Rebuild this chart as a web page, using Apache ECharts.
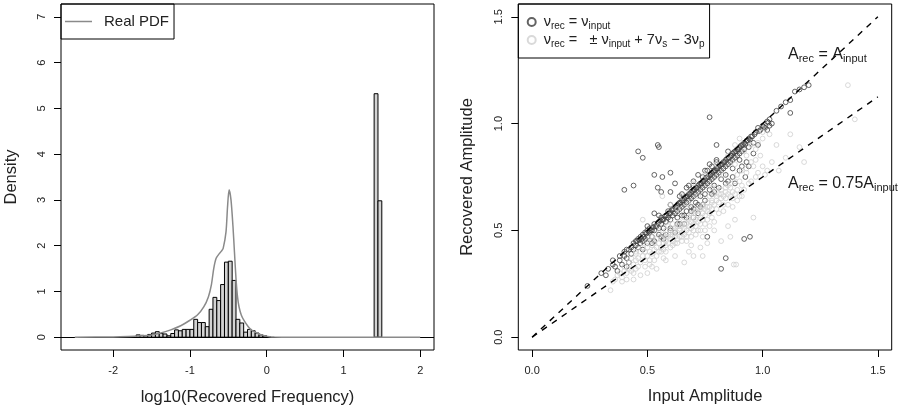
<!DOCTYPE html>
<html><head><meta charset="utf-8">
<script src="https://cdn.jsdelivr.net/npm/echarts@6/dist/echarts.min.js"></script>
<style>html,body{margin:0;padding:0;background:#fff}#c{width:900px;height:408px}</style>
</head><body><div id="c"></div>
<script>
const FONT = '"Liberation Sans", Arial, Helvetica, sans-serif';

// ---- left panel: histogram of log10(recovered frequency) ----
const binWidth = 0.05;
const binStarts = [-1.70,-1.65,-1.60,-1.55,-1.50,-1.45,-1.40,-1.35,-1.30,-1.25,-1.20,-1.15,-1.10,-1.05,-1.00,
  -0.95,-0.90,-0.85,-0.80,-0.75,-0.70,-0.65,-0.60,-0.55,-0.50,-0.45,-0.40,-0.35,-0.30,-0.25,-0.20,-0.15,-0.10,-0.05,0.00,
  1.40,1.45];
const densities = [0.05,0.04,0.03,0.06,0.09,0.12,0.08,0.07,0.03,0.08,0.16,0.14,0.17,0.17,0.17,
  0.39,0.32,0.32,0.23,0.61,0.87,0.80,1.15,1.64,1.66,1.24,0.39,0.31,0.11,0.17,0.14,0.09,0.05,0.03,0.01,
  5.32,2.98];
const pdfX = [-2.5,-2.0,-1.8,-1.64,-1.5,-1.38,-1.25,-1.12,-1.0,-0.9,-0.82,-0.76,-0.72,-0.69,-0.66,-0.62,-0.59,-0.567,-0.53,-0.51,-0.49,-0.465,-0.44,-0.42,-0.40,-0.38,-0.36,-0.33,-0.29,-0.24,-0.2,-0.15,-0.1,-0.04,0.04,0.1,0.3,1.0,2.0];
const pdfY = [0,0.005,0.015,0.03,0.05,0.09,0.16,0.25,0.37,0.49,0.66,0.88,1.15,1.5,1.72,1.82,1.88,1.94,2.3,2.85,3.22,3.0,2.44,1.86,1.28,0.88,0.66,0.48,0.35,0.23,0.16,0.11,0.07,0.04,0.01,0.004,0,0,0];
const histXTicks = [-2,-1,0,1,2];
const histYTicks = [0,1,2,3,4,5,6,7];

// ---- right panel: recovered vs input amplitude ----
const ampTicks = [0.0,0.5,1.0,1.5];
const samePts = [
[0.24,0.24],[0.30,0.30],[0.32,0.29],[0.33,0.32],[0.35,0.34],[0.35,0.36],[0.36,0.33],[0.37,0.31],[0.38,0.36],[0.38,0.38],
[0.39,0.34],[0.40,0.40],[0.40,0.38],[0.41,0.41],[0.41,0.37],[0.41,0.33],[0.42,0.41],[0.42,0.35],[0.43,0.42],[0.43,0.39],
[0.44,0.44],[0.44,0.41],[0.45,0.43],[0.45,0.45],[0.46,0.46],[0.46,0.42],[0.47,0.44],[0.47,0.47],[0.48,0.48],[0.48,0.45],
[0.48,0.41],[0.49,0.49],[0.49,0.46],[0.50,0.50],[0.50,0.47],[0.50,0.44],[0.51,0.49],[0.51,0.51],[0.52,0.50],[0.52,0.47],
[0.53,0.53],[0.53,0.50],[0.53,0.45],[0.54,0.52],[0.53,0.58],[0.55,0.54],[0.55,0.51],[0.55,0.48],[0.56,0.56],[0.56,0.53],
[0.57,0.55],[0.57,0.51],[0.58,0.57],[0.58,0.54],[0.58,0.48],[0.59,0.59],[0.59,0.56],[0.60,0.58],[0.60,0.55],[0.60,0.50],
[0.61,0.60],[0.61,0.57],[0.62,0.61],[0.62,0.58],[0.62,0.49],[0.63,0.62],[0.63,0.59],[0.63,0.56],[0.64,0.63],[0.64,0.60],
[0.64,0.66],[0.65,0.64],[0.65,0.61],[0.65,0.57],[0.66,0.65],[0.66,0.62],[0.66,0.53],[0.67,0.70],[0.67,0.66],[0.67,0.63],
[0.67,0.59],[0.68,0.67],[0.68,0.64],[0.68,0.71],[0.69,0.68],[0.69,0.65],[0.69,0.61],[0.70,0.69],[0.70,0.66],[0.70,0.71],
[0.70,0.56],[0.71,0.70],[0.71,0.67],[0.71,0.63],[0.72,0.71],[0.72,0.68],[0.72,0.58],[0.73,0.72],[0.73,0.69],[0.73,0.66],
[0.74,0.73],[0.74,0.70],[0.74,0.75],[0.75,0.74],[0.75,0.71],[0.75,0.67],[0.76,0.75],[0.76,0.72],[0.76,0.78],[0.77,0.76],
[0.77,0.73],[0.77,0.69],[0.78,0.77],[0.78,0.74],[0.78,0.80],[0.79,0.78],[0.79,0.75],[0.79,0.71],[0.80,0.79],[0.80,0.76],
[0.80,0.82],[0.81,0.80],[0.81,0.77],[0.82,0.81],[0.82,0.78],[0.82,0.74],[0.83,0.82],[0.83,0.79],[0.84,0.83],[0.84,0.80],
[0.84,0.76],[0.85,0.84],[0.85,0.81],[0.86,0.85],[0.86,0.82],[0.87,0.86],[0.87,0.83],[0.87,0.79],[0.88,0.87],[0.88,0.84],
[0.89,0.88],[0.89,0.85],[0.90,0.89],[0.90,0.86],[0.90,0.83],[0.91,0.90],[0.91,0.87],[0.92,0.91],[0.92,0.88],[0.93,0.92],
[0.94,0.93],[0.94,0.89],[0.95,0.94],[0.96,0.91],[0.97,0.96],[0.98,0.98],[0.99,0.97],[1.00,0.99],[1.01,0.98],[1.02,1.01],
[1.03,1.02],[1.03,0.99],[1.04,1.00],[1.06,1.06],[1.08,1.08],[1.10,1.10],[1.12,1.11],[1.14,1.15],[1.16,1.16],[1.18,1.17],
[1.20,1.18],[1.12,1.05],
[0.77,1.03],[0.80,0.90],[0.545,0.90],[0.55,0.89],[0.46,0.87],[0.48,0.84],[0.40,0.69],[0.44,0.71],[0.53,0.76],[0.565,0.75],
[0.60,0.77],[0.545,0.70],[0.56,0.68],[0.60,0.68],[0.62,0.72],[0.92,0.46],[0.945,0.47],[0.84,0.37],[0.82,0.32],[0.76,0.47],
[0.91,0.80],[0.94,0.80],[0.925,0.75],[0.88,0.72],[0.70,0.60],[0.74,0.62],[0.64,0.53],[0.57,0.46],
[0.455,0.45],[0.465,0.455],[0.475,0.46],[0.485,0.47],[0.495,0.485],[0.505,0.495],[0.515,0.50],[0.525,0.515],[0.535,0.52],[0.545,0.535],
[0.555,0.545],[0.565,0.55],[0.575,0.565],[0.585,0.57],[0.595,0.58],[0.605,0.595],[0.615,0.60],[0.625,0.61],[0.635,0.625],[0.645,0.63],
[0.655,0.64],[0.665,0.655],[0.675,0.66],[0.685,0.67],[0.695,0.685],[0.705,0.69],[0.715,0.70],[0.725,0.715],[0.735,0.72],[0.745,0.73],
[0.755,0.745],[0.765,0.75],[0.775,0.76],[0.785,0.775],[0.795,0.78],[0.805,0.79],[0.815,0.805],[0.825,0.81],[0.835,0.82],[0.845,0.835],
[0.855,0.84],[0.865,0.85],[0.875,0.865],[0.885,0.87],[0.895,0.88],[0.905,0.895],[0.915,0.90],[0.925,0.905],[0.935,0.92],[0.945,0.925],
[0.955,0.94],[0.965,0.95],[0.985,0.965],[1.005,0.985],[1.025,1.005],
[0.52,0.44],[0.56,0.47],[0.60,0.51],[0.63,0.53],[0.66,0.57],[0.69,0.59],[0.72,0.62],[0.75,0.64],[0.78,0.67],[0.81,0.70],
[0.84,0.72],[0.87,0.75],[0.90,0.78],[0.93,0.82],[0.96,0.86],[0.98,0.90],[1.02,0.97],[0.67,0.56],[0.73,0.61],[0.79,0.68],[0.85,0.73],
[0.50,0.52],[0.55,0.57],[0.60,0.62],[0.65,0.67],[0.70,0.73],[0.75,0.78],[0.80,0.83],[0.85,0.87],[0.72,0.76],[0.77,0.81]
];
const aliasPts = [
[0.34,0.22],[0.35,0.26],[0.36,0.27],[0.37,0.29],[0.38,0.30],[0.39,0.28],[0.40,0.31],[0.40,0.33],[0.41,0.30],[0.42,0.32],
[0.42,0.35],[0.43,0.31],[0.43,0.37],[0.44,0.34],[0.44,0.30],[0.45,0.36],[0.45,0.39],[0.46,0.33],[0.46,0.37],[0.47,0.40],
[0.47,0.35],[0.48,0.38],[0.48,0.42],[0.48,0.55],[0.49,0.36],[0.49,0.40],[0.50,0.38],[0.50,0.42],[0.50,0.45],[0.51,0.40],
[0.51,0.36],[0.52,0.43],[0.52,0.39],[0.52,0.47],[0.53,0.41],[0.53,0.44],[0.54,0.38],[0.54,0.46],[0.54,0.42],[0.55,0.44],
[0.55,0.40],[0.55,0.49],[0.56,0.42],[0.56,0.46],[0.565,0.66],[0.57,0.44],[0.57,0.48],[0.57,0.41],[0.58,0.45],[0.58,0.50],
[0.58,0.43],[0.59,0.47],[0.59,0.44],[0.59,0.52],[0.60,0.46],[0.60,0.49],[0.60,0.42],[0.61,0.48],[0.61,0.45],[0.61,0.53],
[0.62,0.47],[0.62,0.50],[0.62,0.44],[0.63,0.49],[0.63,0.52],[0.63,0.46],[0.64,0.50],[0.64,0.47],[0.64,0.54],[0.65,0.49],
[0.65,0.52],[0.65,0.45],[0.66,0.51],[0.66,0.48],[0.66,0.56],[0.67,0.50],[0.67,0.53],[0.67,0.47],[0.68,0.52],[0.68,0.55],
[0.68,0.49],[0.69,0.51],[0.69,0.54],[0.69,0.58],[0.70,0.53],[0.70,0.50],[0.70,0.56],[0.71,0.55],[0.71,0.52],[0.71,0.59],
[0.72,0.54],[0.72,0.57],[0.72,0.50],[0.73,0.56],[0.73,0.60],[0.73,0.53],[0.74,0.58],[0.74,0.55],[0.74,0.62],[0.75,0.57],
[0.75,0.60],[0.75,0.53],[0.76,0.59],[0.76,0.63],[0.76,0.55],[0.77,0.61],[0.77,0.58],[0.77,0.66],[0.78,0.60],[0.78,0.64],
[0.78,0.56],[0.79,0.62],[0.79,0.67],[0.80,0.64],[0.80,0.60],[0.80,0.70],[0.81,0.63],[0.81,0.67],[0.82,0.65],[0.82,0.69],
[0.83,0.66],[0.83,0.62],[0.84,0.68],[0.84,0.65],[0.85,0.67],[0.85,0.71],[0.86,0.66],[0.86,0.70],[0.87,0.68],[0.87,0.65],
[0.88,0.67],[0.89,0.69],[0.90,0.66],[0.90,0.73],[0.91,0.71],[0.92,0.69],[0.93,0.77],[0.94,0.72],[0.95,0.73],[0.96,0.56],
[0.97,0.75],[0.98,0.77],[1.00,0.80],[1.01,0.76],[1.02,0.78],[1.04,0.82],[1.07,0.78],[1.10,0.84],[1.12,0.95],[1.16,0.89],
[1.18,0.82],[1.37,1.18],[1.40,1.02],
[0.60,0.62],[0.65,0.66],[0.70,0.72],[0.75,0.76],[0.80,0.81],[0.85,0.85],[0.88,0.90],[0.90,0.93],[0.92,0.87],[0.95,0.90],
[0.97,0.88],[1.00,0.93],[1.00,0.96],[0.55,0.52],[0.45,0.40],[0.70,0.38],[0.73,0.42],[0.62,0.38],[0.82,0.45],[0.85,0.52],
[0.88,0.55],[0.875,0.34],[0.885,0.34],[0.76,0.44],[0.68,0.40],[0.54,0.32],[0.50,0.30],[0.47,0.29],[0.86,0.47],[0.66,0.35],
[0.74,0.38],[0.58,0.36],[0.52,0.33],
[0.58,0.47],[0.60,0.48],[0.62,0.51],[0.64,0.52],[0.66,0.53],[0.68,0.56],[0.70,0.58],[0.72,0.60],[0.74,0.61],[0.76,0.61],
[0.78,0.63],[0.80,0.66],[0.82,0.67],[0.84,0.70],[0.86,0.72],[0.88,0.73],[0.89,0.76],[0.91,0.78],[0.93,0.79],[0.95,0.82],
[0.97,0.83],[0.99,0.85],[0.61,0.43],[0.63,0.44],[0.65,0.47],[0.67,0.45],[0.69,0.47],[0.71,0.48],[0.73,0.50],[0.75,0.50],
[0.77,0.52],[0.79,0.54],[0.81,0.58],[0.83,0.59],[0.85,0.62],[0.87,0.61],[0.89,0.64],[0.91,0.66],[0.56,0.40],[0.58,0.40],
[0.53,0.36],[0.49,0.33],[0.45,0.32],[0.41,0.27],[0.39,0.26],[0.44,0.27],[0.63,0.60],[0.68,0.62],[0.72,0.66],[0.78,0.70],
[0.83,0.76],[0.88,0.81],[0.93,0.85],[0.98,0.91],[1.03,0.95],[1.06,0.90],[0.96,0.80],[0.69,0.43],[0.74,0.47],[0.79,0.50],
[0.57,0.37],[0.51,0.34]
];
const refLineX = [0, 1.5];
const refSlopes = [1, 0.75];
const annoPos = [[1.11, 1.325], [1.11, 0.72]];

const chart = echarts.init(document.getElementById('c'), null, {renderer: 'canvas'});

const tickLabelStyle = {fontSize: 11, color: '#222', fontFamily: FONT};
const titleStyle = {fontSize: 16.5, color: '#222', fontFamily: FONT};

function axisCfg(gridIndex, min, max, ticks, fmt, name, gap, isY) {
  return {
    type: 'value', gridIndex, min, max, name,
    nameLocation: 'middle', nameGap: gap, nameTextStyle: titleStyle,
    axisLine: {show: false, onZero: false},
    splitLine: {show: false},
    axisTick: {show: true, inside: false, length: 7, lineStyle: {color: '#000', width: 1}, customValues: ticks},
    axisLabel: Object.assign({customValues: ticks, margin: isY ? 14 : 15, rotate: isY ? 90 : 0, formatter: fmt}, tickLabelStyle)
  };
}

const subRich = {
  m: {fontSize: 14.5, lineHeight: 18, verticalAlign: 'middle', fontFamily: FONT, color: '#222'},
  s: {fontSize: 10, lineHeight: 8, verticalAlign: 'bottom', fontFamily: FONT, color: '#222'}
};
const annoRich = {
  m: {fontSize: 16, lineHeight: 20, verticalAlign: 'middle', fontFamily: FONT, color: '#1a1a1a'},
  s: {fontSize: 11, lineHeight: 10, verticalAlign: 'bottom', fontFamily: FONT, color: '#1a1a1a'}
};
const legendLabels = {
  same: '{m|ν}{s|rec}{m| = ν}{s|input}',
  alias: '{m|ν}{s|rec}{m| =   ± ν}{s|input}{m| + 7ν}{s|s}{m| − 3ν}{s|p}'
};
const annoLabels = ['{m|A}{s|rec}{m| = A}{s|input}', '{m|A}{s|rec}{m| = 0.75A}{s|input}'];

const option = {
  animation: false,
  backgroundColor: '#fff',
  grid: [
    {left: 61, top: 4, width: 373, height: 346, show: true, borderColor: '#000', borderWidth: 1,
      backgroundColor: 'transparent', containLabel: false, outerBoundsMode: 'none'},
    {left: 518.3, top: 4, width: 373.4, height: 346, show: true, borderColor: '#000', borderWidth: 1,
      backgroundColor: 'transparent', containLabel: false, outerBoundsMode: 'none'}
  ],
  xAxis: [
    axisCfg(0, -2.68, 2.18, histXTicks, v => String(v), 'log10(Recovered Frequency)', 39, false),
    axisCfg(1, -0.06, 1.56, ampTicks, v => v.toFixed(1), 'Input Amplitude', 38, false)
  ],
  yAxis: [
    axisCfg(0, -0.28, 7.28, histYTicks, v => String(v), 'Density', 41, true),
    axisCfg(1, -0.06, 1.56, ampTicks, v => v.toFixed(1), 'Recovered Amplitude', 42, true)
  ],
  legend: [
    {
      left: 61, top: 4, orient: 'horizontal',
      data: [{name: 'Real PDF', icon: 'rect', itemStyle: {color: '#8a8a8a'}}],
      itemWidth: 27, itemHeight: 1.5, borderColor: '#000', borderWidth: 1, borderRadius: 0,
      padding: [8, 5, 8, 4],
      textStyle: {fontSize: 15, fontFamily: FONT, color: '#222', padding: [0, 0, 0, 7], lineHeight: 19},
      selectedMode: false
    },
    {
      left: 518.3, top: 4, orient: 'vertical', itemGap: 0, itemWidth: 8, itemHeight: 8,
      data: [
        {name: 'same', icon: 'emptyCircle', itemStyle: {color: '#3c3c3c', borderColor: '#3c3c3c', borderWidth: 1}},
        {name: 'alias', icon: 'emptyCircle', itemStyle: {color: '#cfcfcf', borderColor: '#cfcfcf', borderWidth: 1}}
      ],
      formatter: n => legendLabels[n],
      textStyle: {rich: subRich, padding: [0, 0, 0, 3], lineHeight: 18},
      borderColor: '#000', borderWidth: 1, borderRadius: 0,
      padding: [9, 5, 9, 8.4],
      selectedMode: false
    }
  ],
  series: [
    {
      type: 'custom', name: 'hist', xAxisIndex: 0, yAxisIndex: 0, z: 2,
      data: binStarts.map((s, i) => [s, s + binWidth, densities[i]]),
      encode: {x: [0, 1], y: 2},
      renderItem: (params, api) => {
        const p0 = api.coord([api.value(0), api.value(2)]);
        const p1 = api.coord([api.value(1), 0]);
        return {type: 'rect', shape: {x: p0[0], y: p0[1], width: p1[0] - p0[0], height: p1[1] - p0[1]},
          style: {fill: '#d3d3d3', stroke: '#000', lineWidth: 1}};
      },
      markLine: {
        silent: true, symbol: 'none', label: {show: false},
        lineStyle: {color: '#000', width: 1, type: 'solid'},
        data: [{yAxis: 0}]
      }
    },
    {
      type: 'line', name: 'Real PDF', xAxisIndex: 0, yAxisIndex: 0, z: 5,
      data: pdfX.map((x, i) => [x, pdfY[i]]),
      showSymbol: false, symbol: 'none', smooth: 0.25,
      lineStyle: {color: '#8a8a8a', width: 1.5}, itemStyle: {color: '#8a8a8a'}
    },
    {
      type: 'scatter', name: 'same', xAxisIndex: 1, yAxisIndex: 1, z: 3,
      data: samePts, symbol: 'circle', symbolSize: 4.8,
      itemStyle: {color: 'rgba(0,0,0,0)', borderColor: '#404040', borderWidth: 1}
    },
    {
      type: 'scatter', name: 'alias', xAxisIndex: 1, yAxisIndex: 1, z: 3,
      data: aliasPts, symbol: 'circle', symbolSize: 4.8,
      itemStyle: {color: 'rgba(0,0,0,0)', borderColor: '#cfcfcf', borderWidth: 1}
    },
    ...refSlopes.map(k => ({
      type: 'line', xAxisIndex: 1, yAxisIndex: 1, z: 4,
      data: refLineX.map(x => [x, x * k]),
      showSymbol: false, symbol: 'none',
      lineStyle: {color: '#000', width: 1.4, type: [6, 6]}
    })),
    {
      type: 'scatter', xAxisIndex: 1, yAxisIndex: 1, z: 6,
      data: annoPos, symbolSize: 0.1, itemStyle: {color: 'rgba(0,0,0,0)'},
      label: {show: true, position: 'right', distance: 0, color: '#1a1a1a', opacity: 1,
        formatter: p => annoLabels[p.dataIndex], rich: annoRich}
    }
  ]
};
chart.setOption(option);
</script></body></html>
